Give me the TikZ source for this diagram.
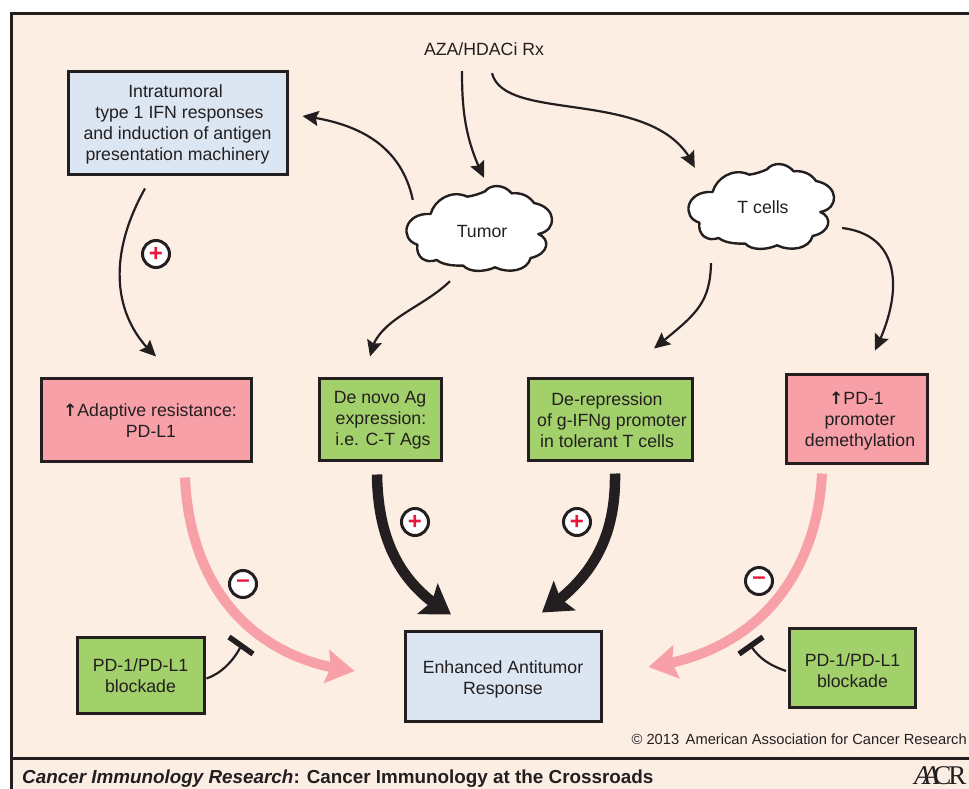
\documentclass[tikz,border=0pt]{standalone}
\usepackage{fontspec}
\setmainfont{Liberation Sans}
\newfontfamily\arrowfont{DejaVu Sans}
\newfontfamily\logofont{Liberation Serif}
\usetikzlibrary{arrows.meta,bending}
\definecolor{ink}{HTML}{231F20}
\definecolor{peach}{HTML}{FDEEE4}
\definecolor{paleblue}{HTML}{DCE6F2}
\definecolor{rosebox}{HTML}{F8A0A8}
\definecolor{leaf}{HTML}{A2D06A}
\definecolor{signred}{HTML}{E8173F}
\newcommand{\uparr}{{\arrowfont\bfseries\fontsize{17}{17}\selectfont ↑}}
\newcommand{\dn}[1]{\rule{0pt}{#1pt}}
\newcommand{\mv}[1]{\hspace*{#1pt}}
\tikzset{
  base/.style={draw=ink,line width=3pt,inner sep=0pt,align=center,text=ink,font=\fontsize{17.7}{21}\selectfont},
  bluebox/.style={base,fill=paleblue},
  redbox/.style={base,fill=rosebox},
  greenbox/.style={base,fill=leaf},
  cloudlabel/.style={inner sep=0pt,text=ink,minimum width=140pt,minimum height=100pt,font=\fontsize{17.7}{21}\selectfont},
  thin arrow/.style={draw=ink,line width=2.2pt,-{Stealth[length=16pt,width=15pt,inset=2.5pt]}},
  thick arrow/.style={draw=ink,line width=10.5pt,-{Stealth[length=28pt,width=36pt,inset=5pt]}},
  pink arrow/.style={draw=rosebox,line width=10pt,-{Stealth[length=28pt,width=33pt,inset=4pt]}},
  sign/.style={circle,draw=ink,fill=white,line width=3pt,minimum size=27pt,inner sep=0pt,text=signred,font=\fontsize{24}{24}\bfseries\selectfont},
  stem/.style={draw=ink,line width=2.2pt},
  bar/.style={draw=ink,line width=5.5pt},
  cloudshape/.pic={
    \draw[draw=ink,fill=white,line width=2.4pt,line join=round]
      (-145,-45) .. controls (-135,-85) and (-85,-120) .. (-35,-97)
      .. controls (-15,-100) and (0,-105) .. (18,-113)
      .. controls (35,-135) and (75,-135) .. (98,-107)
      .. controls (125,-110) and (150,-100) .. (165,-78)
      .. controls (235,-65) and (235,5) .. (178,15)
      .. controls (215,30) and (210,75) .. (155,87)
      .. controls (145,125) and (90,135) .. (48,115)
      .. controls (15,130) and (-30,130) .. (-47,110)
      .. controls (-70,110) and (-105,110) .. (-127,93)
      .. controls (-160,105) and (-190,85) .. (-185,47)
      .. controls (-240,30) and (-225,-50) .. cycle;
  }
}
\begin{document}
\begin{tikzpicture}[x=1pt,y=-1pt]
\useasboundingbox (0,0) rectangle (969,789);
\fill[white] (0,0) rectangle (969,789);
\draw[draw=ink,fill=peach,line width=3pt] (11,14) rectangle (980,800);
\draw[draw=ink,line width=3pt] (11,758) -- (980,758);

\pic[scale=1/3] at (479,229) {cloudshape};
\pic[scale=1/3] at (761,207) {cloudshape};

\node[inner sep=0pt,minimum width=122pt,minimum height=18pt,text=ink,font=\fontsize{17.7}{21}\selectfont] (aza) at (484,49) {AZA/HDACi Rx};
\node[cloudlabel] (tumor) at (482,231) {Tumor};
\node[cloudlabel] (tcells) at (763,207) {T cells};

\node[bluebox,minimum width=219pt,minimum height=102pt] (top) at (177.5,123) {\dn{15}\kern-4pt Intratumoral\\\mv{4}type 1 IFN responses\\and induction of antigen\\presentation machinery};
\node[redbox,minimum width=210pt,minimum height=83pt] (red1) at (146,419.5) {\dn{15}\mv{8}\uparr Adaptive resistance:\\\mv{10}PD-L1};
\node[greenbox,minimum width=122pt,minimum height=82pt] (denovo) at (380,419) {\dn{15}De novo Ag\\\mv{2}expression:\\\mv{6}i.e. C-T Ags};
\node[greenbox,minimum width=164pt,minimum height=82pt] (derep) at (610,419) {\dn{15}\kern-6pt De-repression\\\mv{4}of g-IFNg promoter\\\kern-6pt in tolerant T cells};
\node[redbox,minimum width=141pt,minimum height=89pt] (red2) at (856.5,418.5) {\dn{17}\uparr PD-1\\\mv{7}promoter\\\mv{7}demethylation};
\node[bluebox,minimum width=196pt,minimum height=90pt] (final) at (503,676) {\dn{19}Enhanced Antitumor\\Response};
\node[greenbox,minimum width=127pt,minimum height=76pt] (blockL) at (140.5,675.5) {PD-1/PD-L1\\blockade};
\node[greenbox,minimum width=126pt,minimum height=79pt] (blockR) at (852.5,668) {\dn{19}PD-1/PD-L1\\blockade};

\node[sign] (p1) at (156,254) {+};
\node[sign] (p2) at (415,522) {+};
\node[sign] (p3) at (577,522) {+};
\node[sign] (m1) at (243,584) {–};
\node[sign] (m2) at (759,581) {–};

% thin connectors
\draw[thin arrow] ([shift={(-22,13)}]aza.south) .. controls (462,110) and (465,140) .. ([shift={(2,-3)}]tumor.north);
\draw[thin arrow] ([shift={(8,15)}]aza.south) .. controls (505,125) and (660,85) .. ([shift={(2,11)}]tcells.north west);
\draw[thin arrow] ([shift={(1,19)}]tumor.north west) .. controls (400,140) and (350,122) .. ([shift={(14,-7)}]top.east);
\draw[thin arrow] ([shift={(-32.5,13)}]top.south) .. controls (105,260) and (115,320) .. ([shift={(10,-20)}]red1.north);
\draw[thin arrow] ([shift={(-32,0)}]tumor.south) .. controls (420,310) and (375,320) .. ([shift={(-10,-20)}]denovo.north);
\draw[thin arrow] ([shift={(-52,6)}]tcells.south) .. controls (710,305) and (695,315) .. ([shift={(44,-28)}]derep.north);
\draw[thin arrow] ([shift={(9,21)}]tcells.east) .. controls (900,235) and (905,290) .. ([shift={(18.5,-22)}]red2.north);

% heavy connectors
\draw[pink arrow] ([shift={(39,15)}]red1.south) .. controls (190,590) and (255,660) .. ([shift={(-49,-5)}]final.west);
\draw[pink arrow] ([shift={(-34.5,9)}]red2.south) .. controls (818,560) and (770,650) .. ([shift={(46,-9)}]final.east);
\draw[thick arrow] ([shift={(-3,13)}]denovo.south) .. controls (378,540) and (400,585) .. ([shift={(-52,-15)}]final.north);
\draw[thick arrow] ([shift={(5,12)}]derep.south) .. controls (616,540) and (590,580) .. ([shift={(39,-17)}]final.north);

% blockade
\coordinate (barL) at (241,646);
\coordinate (barR) at (751,646);
\draw[stem] ([shift={(1,3)}]blockL.east) .. controls (220,674) and (233,662) .. (barL);
\draw[stem] ([shift={(-2,3)}]blockR.west) .. controls (772,666) and (760,660) .. (barR);
\draw[bar] (barL) +(-12,-9) -- +(12,8);
\draw[bar] (barR) +(-12,8) -- +(12,-9);

\node[inner sep=0pt,anchor=east,text=ink,font=\fontsize{14.7}{16}\selectfont] (copy) at (967,739) {© 2013\, American Association for Cancer Research};
\node[inner sep=0pt,anchor=base west,text=ink,font=\fontsize{18.85}{20}\bfseries\selectfont] (foot) at (22,783) {\textit{Cancer Immunology Research}: Cancer Immunology at the Crossroads};
\node[inner sep=0pt,anchor=base west,text=ink,font=\logofont\fontsize{27}{27}\selectfont] (logo) at (914,784) {\textit{A}\kern-8pt\textit{A}\kern-6pt C\kern-3pt R};
\end{tikzpicture}
\end{document}
